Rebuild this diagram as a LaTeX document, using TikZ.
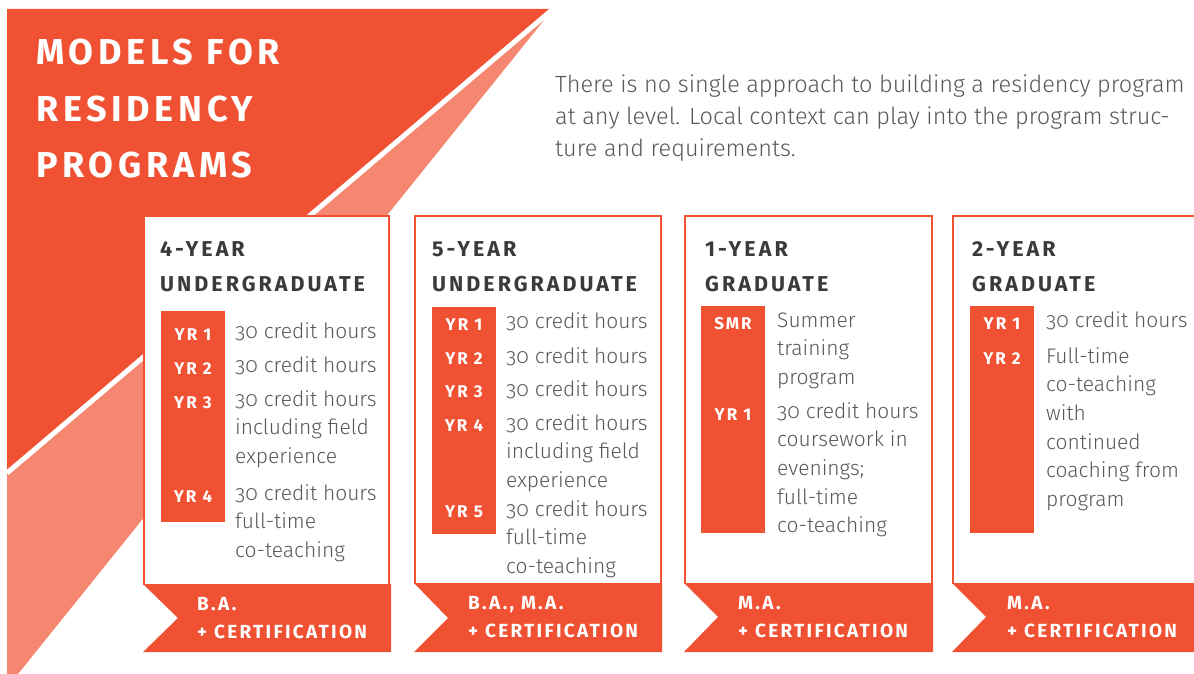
\documentclass[tikz,border=0pt]{standalone}
\usepackage{fontspec}
\setmainfont{Fira Sans Light}[Numbers=OldStyle]
\newfontfamily\titlefont{Fira Sans}[LetterSpace=13]
\newfontfamily\headfont{Fira Sans}[LetterSpace=14]
\newfontfamily\tagfont{Fira Sans}[LetterSpace=12]
\definecolor{resred}{RGB}{240,81,51}
\definecolor{ressalmon}{RGB}{245,134,112}
\definecolor{headgray}{RGB}{58,58,58}
\definecolor{bodygray}{RGB}{88,88,88}
\tikzset{
  card/.style={draw=resred, line width=2.2pt, fill=white},
  cardhead/.style={anchor=base west, inner sep=0, align=left, text=headgray, font=\headfont\bfseries\fontsize{21.5}{35}\selectfont},
  yrlabel/.style={anchor=base, inner sep=0, text=white, font=\tagfont\bfseries\fontsize{17}{20}\selectfont},
  item/.style={anchor=base west, inner sep=0, align=left, text=bodygray, font=\fontsize{21}{28.7}\selectfont},
  degree/.style={anchor=base west, inner sep=0, align=left, text=white, font=\tagfont\bfseries\fontsize{19}{28}\selectfont},
}
\begin{document}
\begin{tikzpicture}[x=1pt,y=-1pt]
			%%%%% START %%%%%
			\useasboundingbox (0,0) rectangle (1194,674);
			
			\fill[resred] (7,9) -- (553,9) -- (7,473) -- cycle;
			\fill[ressalmon] (553,9) -- (7,473) -- (7,674) -- (18,674) -- cycle;
			\draw[white, line width=5pt] (553,9) -- (7,473);
			
			% multi-line nodes sit on the baseline of their last line
			\node[anchor=base west, inner sep=0, align=left, text=white, font=\titlefont\bfseries\fontsize{36}{56.5}\selectfont] (title) at (36,178) {MODELS FOR\\RESIDENCY\\PROGRAMS};
			\node[anchor=base west, inner sep=0, align=left, text=bodygray, font=\fontsize{23.5}{32}\selectfont] (intro) at (555,157) {There is no single approach to building a residency program\\at any level. Local context can play into the program struc-\\ture and requirements.};
			
			% 4-year undergraduate
			\draw[card] (144,585) -- (144,216) -- (389,216) -- (389,585);
			\fill[resred] (143,584) -- (391,584) -- (391,652) -- (143,652) -- (178,618) -- cycle;
			\fill[resred] (161,311) rectangle (225,522);
			\node[cardhead] (head1) at (160,291) {4-YEAR\\UNDERGRADUATE};
			\node[yrlabel] (u4y1) at (193,340) {YR 1};
			\node[yrlabel] (u4y2) at (193,374) {YR 2};
			\node[yrlabel] (u4y3) at (193,408) {YR 3};
			\node[yrlabel] (u4y4) at (193,502) {YR 4};
			\node[item] (u4t1) at (235,338) {30 credit hours};
			\node[item] (u4t2) at (235,372) {30 credit hours};
			\node[item] (u4t3) at (235,463.4) {30 credit hours\\including field\\experience};
			\node[item] (u4t4) at (235,557.4) {30 credit hours\\full-time\\co-teaching};
			\node[degree] (deg1) at (197,638) {B.A.\\+ CERTIFICATION};
			
			% 5-year undergraduate
			\draw[card] (415,584) -- (415,216) -- (661,216) -- (661,584);
			\fill[resred] (414,583) -- (662,583) -- (662,652) -- (414,652) -- (448,618) -- cycle;
			\fill[resred] (432,307) rectangle (496,534);
			\node[cardhead] (head2) at (432,291) {5-YEAR\\UNDERGRADUATE};
			\node[yrlabel] (u5y1) at (464,330) {YR 1};
			\node[yrlabel] (u5y2) at (464,364) {YR 2};
			\node[yrlabel] (u5y3) at (464,397) {YR 3};
			\node[yrlabel] (u5y4) at (464,431) {YR 4};
			\node[yrlabel] (u5y5) at (464,517) {YR 5};
			\node[item] (u5t1) at (506,328) {30 credit hours};
			\node[item] (u5t2) at (506,363) {30 credit hours};
			\node[item] (u5t3) at (506,396) {30 credit hours};
			\node[item] (u5t4) at (506,487.4) {30 credit hours\\including field\\experience};
			\node[item] (u5t5) at (506,573.4) {30 credit hours\\full-time\\co-teaching};
			\node[degree] (deg2) at (468,637) {B.A., M.A.\\+ CERTIFICATION};
			
			% 1-year graduate
			\draw[card] (685,584) -- (685,216) -- (932,216) -- (932,584);
			\fill[resred] (684,583) -- (933,583) -- (933,652) -- (684,652) -- (718,617) -- cycle;
			\fill[resred] (701,306) rectangle (765,533);
			\node[cardhead] (head3) at (705,291) {1-YEAR\\GRADUATE};
			\node[yrlabel] (g1sm) at (733,329) {SMR};
			\node[yrlabel] (g1y1) at (733,420) {YR 1};
			\node[item] (g1t1) at (777,384.4) {Summer\\training\\program};
			\node[item] (g1t2) at (777,532.8) {30 credit hours\\coursework in\\evenings;\\full-time\\co-teaching};
			\node[degree] (deg3) at (738,637) {M.A.\\+ CERTIFICATION};
			
			% 2-year graduate
			\draw[card] (953,584) -- (953,216) -- (1210,216);
			\fill[resred] (952,583) -- (1200,583) -- (1200,652) -- (952,652) -- (986,617) -- cycle;
			\fill[resred] (970,306) rectangle (1034,533);
			\node[cardhead] (head4) at (972,291) {2-YEAR\\GRADUATE};
			\node[yrlabel] (g2y1) at (1002,329) {YR 1};
			\node[yrlabel] (g2y2) at (1002,364) {YR 2};
			\node[item] (g2t1) at (1046,327) {30 credit hours};
			\node[item] (g2t2) at (1046,506.5) {Full-time\\co-teaching\\with\\continued\\coaching from\\program};
			\node[degree] (deg4) at (1007,637) {M.A.\\+ CERTIFICATION};
			%%%%% END %%%%%
		\end{tikzpicture}
\end{document}
